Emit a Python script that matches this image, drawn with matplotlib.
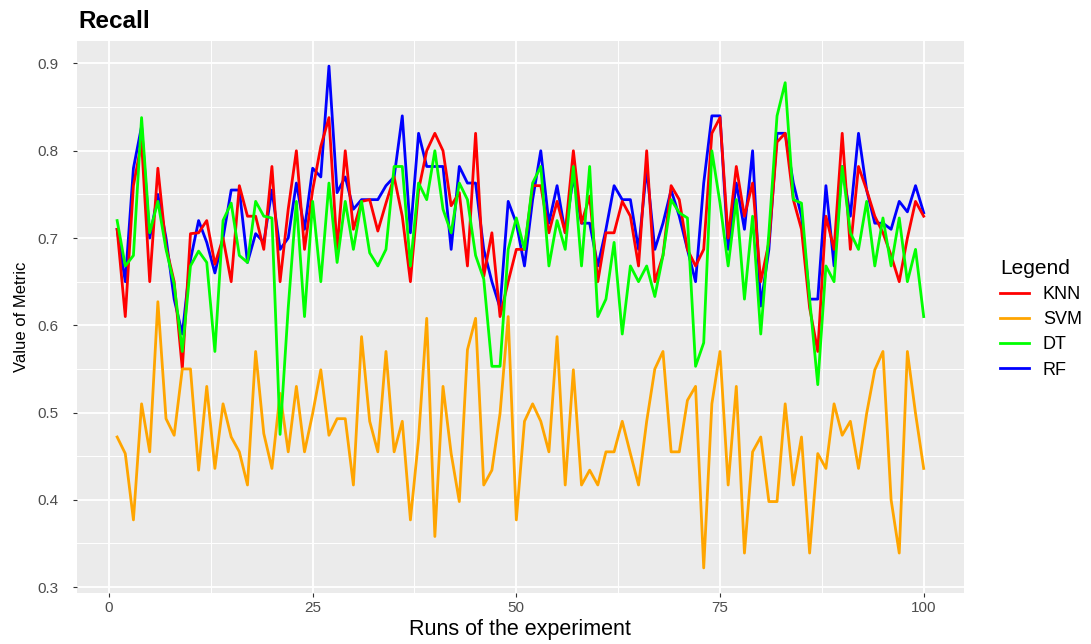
#!/usr/bin/python3

# Recall of four classifiers over 100 repeated runs (ggplot-like look)

import numpy as np
import matplotlib
matplotlib.use('Agg')
import matplotlib.pyplot as plt
from matplotlib.ticker import MultipleLocator

plt.rcParams['font.family'] = ['Liberation Sans', 'DejaVu Sans']

runs = list(range(1, 101))

knn = [0.71, 0.61, 0.76, 0.81, 0.65, 0.78, 0.69, 0.65, 0.55, 0.705,
       0.706, 0.72, 0.67, 0.70, 0.65, 0.76, 0.725, 0.725, 0.687, 0.782,
       0.65, 0.733, 0.80, 0.687, 0.755, 0.805, 0.838, 0.687, 0.80, 0.71,
       0.742, 0.744, 0.708, 0.74, 0.77, 0.725, 0.65, 0.755, 0.80, 0.82,
       0.80, 0.737, 0.752, 0.668, 0.82, 0.656, 0.706, 0.61, 0.65, 0.687,
       0.687, 0.76, 0.76, 0.706, 0.742, 0.706, 0.80, 0.717, 0.748, 0.65,
       0.706, 0.706, 0.742, 0.725, 0.668, 0.80, 0.65, 0.68, 0.76, 0.744,
       0.687, 0.668, 0.687, 0.82, 0.838, 0.70, 0.782, 0.725, 0.763, 0.65,
       0.695, 0.81, 0.82, 0.744, 0.71, 0.62, 0.57, 0.725, 0.687, 0.82,
       0.687, 0.782, 0.755, 0.725, 0.706, 0.68, 0.65, 0.70, 0.742, 0.725]

svm = [0.472, 0.453, 0.377, 0.51, 0.455, 0.627, 0.493, 0.474, 0.55, 0.55,
       0.434, 0.53, 0.436, 0.51, 0.472, 0.455, 0.417, 0.57, 0.476, 0.436,
       0.522, 0.455, 0.53, 0.455, 0.499, 0.549, 0.474, 0.493, 0.493, 0.417,
       0.587, 0.49, 0.455, 0.57, 0.455, 0.49, 0.377, 0.47, 0.608, 0.358,
       0.53, 0.453, 0.398, 0.572, 0.608, 0.417, 0.434, 0.499, 0.61, 0.377,
       0.49, 0.51, 0.49, 0.455, 0.587, 0.417, 0.549, 0.417, 0.434, 0.417,
       0.455, 0.455, 0.49, 0.453, 0.417, 0.49, 0.55, 0.57, 0.455, 0.455,
       0.514, 0.53, 0.322, 0.51, 0.57, 0.417, 0.53, 0.339, 0.455, 0.472,
       0.398, 0.398, 0.51, 0.417, 0.472, 0.339, 0.453, 0.436, 0.51, 0.474,
       0.49, 0.436, 0.499, 0.549, 0.57, 0.40, 0.339, 0.57, 0.499, 0.436]

dt = [0.72, 0.668, 0.68, 0.838, 0.706, 0.742, 0.687, 0.647, 0.57, 0.668,
      0.685, 0.672, 0.57, 0.72, 0.74, 0.68, 0.672, 0.742, 0.725, 0.723,
      0.475, 0.62, 0.742, 0.61, 0.742, 0.65, 0.763, 0.672, 0.742, 0.687,
      0.742, 0.683, 0.668, 0.687, 0.782, 0.782, 0.668, 0.763, 0.744, 0.80,
      0.733, 0.706, 0.763, 0.744, 0.68, 0.653, 0.553, 0.553, 0.687, 0.723,
      0.687, 0.763, 0.782, 0.668, 0.72, 0.687, 0.782, 0.668, 0.782, 0.61,
      0.63, 0.695, 0.59, 0.668, 0.65, 0.668, 0.633, 0.68, 0.744, 0.729,
      0.723, 0.553, 0.58, 0.80, 0.74, 0.668, 0.744, 0.63, 0.725, 0.59,
      0.706, 0.84, 0.878, 0.744, 0.74, 0.63, 0.532, 0.668, 0.65, 0.782,
      0.706, 0.687, 0.742, 0.668, 0.723, 0.668, 0.723, 0.65, 0.687, 0.61]

rf = [0.71, 0.65, 0.78, 0.828, 0.70, 0.75, 0.70, 0.63, 0.59, 0.675,
      0.72, 0.695, 0.66, 0.70, 0.755, 0.755, 0.672, 0.705, 0.695, 0.755,
      0.687, 0.70, 0.763, 0.71, 0.78, 0.77, 0.897, 0.752, 0.77, 0.733,
      0.744, 0.744, 0.744, 0.76, 0.77, 0.84, 0.706, 0.82, 0.782, 0.782,
      0.782, 0.687, 0.782, 0.763, 0.763, 0.687, 0.65, 0.62, 0.742, 0.717,
      0.668, 0.744, 0.80, 0.717, 0.76, 0.706, 0.77, 0.717, 0.717, 0.668,
      0.71, 0.76, 0.744, 0.744, 0.687, 0.78, 0.687, 0.717, 0.755, 0.725,
      0.687, 0.65, 0.763, 0.84, 0.84, 0.687, 0.763, 0.71, 0.80, 0.622,
      0.687, 0.82, 0.82, 0.763, 0.725, 0.63, 0.63, 0.76, 0.668, 0.782,
      0.725, 0.82, 0.755, 0.717, 0.717, 0.71, 0.742, 0.73, 0.76, 0.729]

labels = ['KNN', 'SVM', 'DT', 'RF']
colours = {'KNN': 'red', 'SVM': 'orange', 'DT': '#00FF00', 'RF': 'blue'}
series = {'KNN': knn, 'SVM': svm, 'DT': dt, 'RF': rf}

fig = plt.figure(figsize=(10.91, 6.44), dpi=100)
ax = fig.add_axes([0.0704, 0.0792, 0.8132, 0.8571])

ax.set_facecolor('#EBEBEB')
for s in ax.spines.values():
    s.set_visible(False)

# panel grid: white major + thinner minor lines
ax.xaxis.set_major_locator(MultipleLocator(25))
ax.xaxis.set_minor_locator(MultipleLocator(12.5))
ax.yaxis.set_major_locator(MultipleLocator(0.1))
ax.yaxis.set_minor_locator(MultipleLocator(0.05))
ax.grid(which='major', color='white', linewidth=1.3)
ax.grid(which='minor', color='white', linewidth=0.7)
ax.set_axisbelow(True)

# draw order: RF under, then KNN, SVM, DT on top
lines = {}
for name, z in [('RF', 2), ('KNN', 3), ('SVM', 4), ('DT', 5)]:
    lines[name], = ax.plot(runs, series[name], color=colours[name],
                           linewidth=2.0, zorder=z, label=name)

# ggplot style 5% expansion of the data range
allv = np.concatenate([knn, svm, dt, rf])
lo, hi = allv.min(), allv.max()
ax.set_xlim(1 - 0.05 * 99, 100 + 0.05 * 99)
ax.set_ylim(lo - 0.05 * (hi - lo), hi + 0.05 * (hi - lo))

ax.tick_params(which='major', length=3, width=0.8, color='#333333',
               labelcolor='#4D4D4D', labelsize=11)
ax.tick_params(axis='y', pad=10)
ax.tick_params(axis='x', pad=3)
ax.tick_params(which='minor', length=0)
ax.set_yticklabels(['%.1f' % v for v in ax.get_yticks()])

ax.set_xlabel('Runs of the experiment', fontsize=15.5, color='black')
ax.xaxis.set_label_coords(0.5, -0.067)
ax.xaxis.label.set_va('center')
ax.set_ylabel('Value of Metric', fontsize=12, color='black')
ax.yaxis.set_label_coords(-0.062, 0.5)
ax.yaxis.label.set_va('center')

fig.text(78 / 1091, 1 - 22 / 644, 'Recall', fontsize=17.5, fontweight='bold',
         ha='left', va='center')

leg = ax.legend(handles=[lines[n] for n in labels], labels=labels,
                title='Legend', loc='center left',
                bbox_to_anchor=(0.902, 0.505), bbox_transform=fig.transFigure,
                frameon=False, fontsize=13, title_fontsize=15,
                handlelength=1.6, handletextpad=0.75, labelspacing=0.45)
leg._legend_box.align = 'left'

fig.savefig('out.png', dpi=100)
